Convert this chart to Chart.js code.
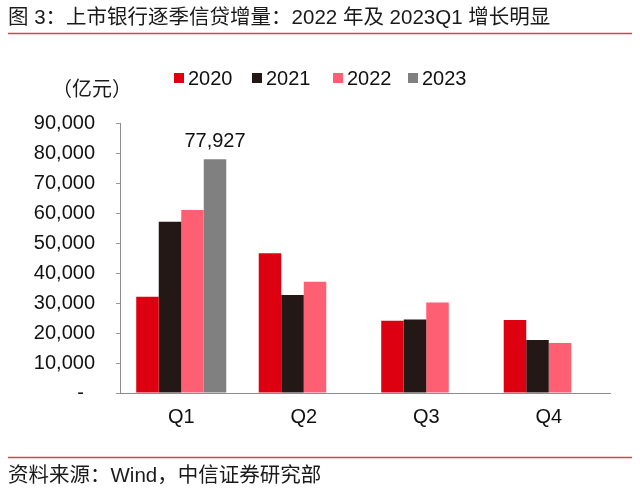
<!DOCTYPE html>
<html lang="zh">
<head>
    <meta charset="UTF-8">
    <title>上市银行逐季信贷增量</title>
    <script src="https://cdn.jsdelivr.net/npm/chart.js@4.4.1/dist/chart.umd.min.js"></script>
    <style>
        html, body {
            margin: 0;
            padding: 0;
            background: #fff;
        }
        #wrap {
            width: 640px;
            height: 496px;
        }
    </style>
</head>
<body>
    <div id="wrap"><canvas id="creditChart" width="640" height="496"></canvas></div>

    <script>
        // data
        const quarters = ['Q1', 'Q2', 'Q3', 'Q4'];
        const years = ['2020', '2021', '2022', '2023'];
        const v2020 = [32100, 46600, 24100, 24300];
        const v2021 = [57100, 32700, 24500, 17700];
        const v2022 = [61000, 37100, 30200, 16700];
        const v2023 = [77927, null, null, null];
        const yTicks = [0, 10000, 20000, 30000, 40000, 50000, 60000, 70000, 80000, 90000];

        const colors = ['#dc0011', '#231815', '#ff5f72', '#808080'];
        const FONT = "'Liberation Sans', 'Noto Sans CJK SC', sans-serif";

        const fmt = v => v.toLocaleString('en-US');

        // title, rules, unit, legend, source and the value label
        const decorPlugin = {
            id: 'decor',
            afterDraw(chart) {
                const ctx = chart.ctx;
                ctx.save();

                ctx.fillStyle = '#1a1a1a';
                ctx.font = '20.5px ' + FONT;
                ctx.textBaseline = 'middle';
                ctx.textAlign = 'left';
                ctx.fillText('图 3：上市银行逐季信贷增量：2022 年及 2023Q1 增长明显', 8, 18);
                ctx.fillText('资料来源：Wind，中信证券研究部', 8, 476);

                ctx.strokeStyle = '#d4424f';
                ctx.lineWidth = 1.5;
                ctx.beginPath();
                ctx.moveTo(8, 33.5); ctx.lineTo(632, 33.5);
                ctx.moveTo(8, 457.5); ctx.lineTo(632, 457.5);
                ctx.stroke();

                ctx.font = '20px ' + FONT;
                ctx.fillText('（亿元）', 52, 90);

                // legend
                const legendX = [174, 252, 333, 408];
                chart.data.datasets.forEach((ds, i) => {
                    ctx.fillStyle = ds.backgroundColor;
                    ctx.fillRect(legendX[i], 73, 10, 10);
                    ctx.fillStyle = '#111';
                    ctx.fillText(ds.label, legendX[i] + 14, 79);
                });

                // value label on the 2023 Q1 bar
                const bar = chart.getDatasetMeta(3).data[0];
                ctx.textAlign = 'center';
                ctx.textBaseline = 'bottom';
                ctx.fillText(fmt(v2023[0]), bar.x, bar.y - 8);

                ctx.restore();
            }
        };

        const ctx = document.getElementById('creditChart').getContext('2d');
        new Chart(ctx, {
            type: 'bar',
            data: {
                labels: quarters,
                datasets: [
                    { label: years[0], data: v2020, backgroundColor: colors[0] },
                    { label: years[1], data: v2021, backgroundColor: colors[1] },
                    { label: years[2], data: v2022, backgroundColor: colors[2] },
                    { label: years[3], data: v2023, backgroundColor: colors[3] }
                ]
            },
            options: {
                responsive: false,
                animation: false,
                layout: { padding: { top: 123, bottom: 63, left: 0, right: 30 } },
                datasets: {
                    bar: { barPercentage: 1, categoryPercentage: 0.735 }
                },
                plugins: {
                    legend: { display: false },
                    tooltip: { enabled: false }
                },
                scales: {
                    x: {
                        grid: { display: false, drawTicks: false },
                        border: { color: '#8c8c8c', width: 1 },
                        ticks: { color: '#111', font: { family: FONT, size: 20 }, padding: 12 },
                        afterFit(scale) { scale.height = 40; }
                    },
                    y: {
                        min: 0,
                        max: 90000,
                        afterBuildTicks(scale) { scale.ticks = yTicks.map(v => ({ value: v })); },
                        grid: { drawOnChartArea: false, drawTicks: true, tickLength: 4, color: '#9a9a9a' },
                        border: { color: '#8c8c8c', width: 1 },
                        ticks: {
                            color: '#111',
                            font: { family: FONT, size: 20 },
                            padding: 21,
                            callback: v => v === 0 ? '-  ' : fmt(v)
                        },
                        afterFit(scale) { scale.width = 120; }
                    }
                }
            },
            plugins: [decorPlugin]
        });
    </script>
</body>
</html>
